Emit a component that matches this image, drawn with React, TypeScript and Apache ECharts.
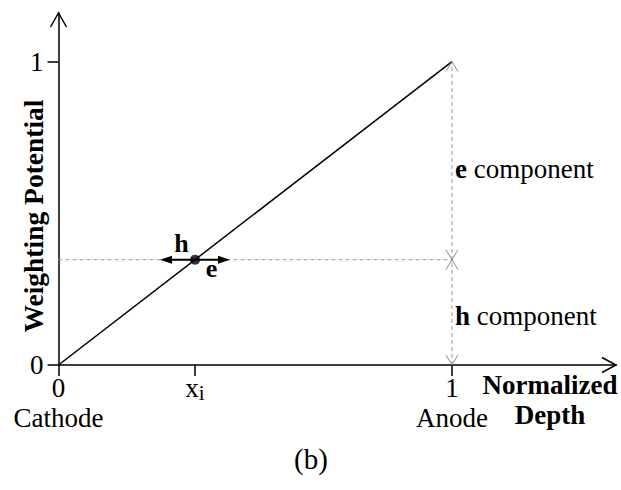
import React, { useEffect, useRef } from "react";
import * as echarts from "echarts";

// ---- data ----
const diagonalX = [0, 1];
const diagonalY = [0, 1];
const xi = 0.347; // position of the charge
const potentialAtXi = 0.347;
const xTicks = [0, xi, 1];
const xTickLabels = ["0\nCathode", "{x|x}{s|i}", "1\nAnode"];
const yTicks = [0, 1];
const yTickLabels = ["0", "1"];
const xMax = 1.417;
const yMax = 1.16;

const SERIF = '"Liberation Serif", "Times New Roman", serif';

export default function App() {
  const ref = useRef<HTMLDivElement>(null);
  useEffect(() => {
    if (!ref.current) return;
    const chart = echarts.init(ref.current, undefined, { renderer: "svg" });
    const black = { stroke: "#000", lineWidth: 1.5, fill: "none" };
    const grey = { stroke: "#8c8c8c", lineWidth: 1, fill: "none" };
    const chevron = (tip: number[], dir: string, hw: number, len: number, style: any) => {
      let pts: number[][];
      if (dir === "up") pts = [[tip[0] - hw, tip[1] + len], tip, [tip[0] + hw, tip[1] + len]];
      else if (dir === "down") pts = [[tip[0] - hw, tip[1] - len], tip, [tip[0] + hw, tip[1] - len]];
      else pts = [[tip[0] - len, tip[1] - hw], tip, [tip[0] - len, tip[1] + hw]];
      return { type: "polyline", shape: { points: pts }, style };
    };
    const findIdx = (arr: number[], v: number) => arr.findIndex((t) => Math.abs(t - v) < 1e-6);

    chart.setOption({
      animation: false,
      grid: { left: 58.5, right: 5, top: 13, bottom: 125 },
      xAxis: {
        type: "value",
        min: 0,
        max: xMax,
        splitLine: { show: false },
        axisLine: { lineStyle: { color: "#000", width: 1.5 } },
        axisTick: { customValues: xTicks, length: 11, lineStyle: { color: "#000", width: 1.5 } },
        axisLabel: {
          customValues: xTicks,
          formatter: (v: number) => xTickLabels[findIdx(xTicks, v)] ?? "",
          color: "#000",
          fontFamily: SERIF,
          fontSize: 27,
          lineHeight: 30,
          margin: 8,
          rich: {
            x: { fontFamily: SERIF, fontSize: 27, color: "#000", lineHeight: 30 },
            s: { fontFamily: SERIF, fontSize: 21, color: "#000", padding: [9, 0, 0, 0] },
          },
        },
      },
      yAxis: {
        type: "value",
        min: 0,
        max: yMax,
        splitLine: { show: false },
        axisLine: { lineStyle: { color: "#000", width: 1.5 } },
        axisTick: { customValues: yTicks, length: 11, lineStyle: { color: "#000", width: 1.5 } },
        axisLabel: {
          customValues: yTicks,
          formatter: (v: number) => yTickLabels[findIdx(yTicks, v)] ?? "",
          color: "#000",
          fontFamily: SERIF,
          fontSize: 27,
          margin: 15,
        },
      },
      series: [
        {
          type: "line",
          data: diagonalX.map((x, i) => [x, diagonalY[i]]),
          symbol: "none",
          lineStyle: { color: "#000", width: 1.5 },
          z: 3,
        },
        {
          type: "line",
          data: [[0, potentialAtXi], [1, potentialAtXi]],
          symbol: "none",
          lineStyle: { color: "#9a9a9a", width: 1, type: [4, 3] },
          z: 2,
        },
        {
          type: "line",
          data: [[1, 0], [1, 1]],
          symbol: "none",
          lineStyle: { color: "#9a9a9a", width: 1, type: [4, 3] },
          z: 2,
        },
        {
          type: "custom",
          data: [[0]],
          z: 4,
          renderItem: (_params: any, api: any) => {
            const top = api.coord([0, yMax]);
            const right = api.coord([xMax, 0]);
            const p = api.coord([xi, potentialAtXi]);
            const a1 = api.coord([1, 1]);
            const am = api.coord([1, potentialAtXi]);
            const a0 = api.coord([1, 0]);
            const L = 35, H = 12, W = 4;
            return {
              type: "group",
              children: [
                chevron(top, "up", 8, 14, black),
                chevron(right, "right", 7.5, 14, black),
                chevron(a1, "up", 6, 10, grey),
                chevron(am, "down", 6, 10, grey),
                chevron(am, "up", 6, 10, grey),
                chevron(a0, "down", 6, 10, grey),
                { type: "line", shape: { x1: p[0] - L + H - 2, y1: p[1], x2: p[0] + L - H + 2, y2: p[1] }, style: { stroke: "#000", lineWidth: 2 } },
                { type: "polygon", shape: { points: [[p[0] - L, p[1]], [p[0] - L + H, p[1] - W], [p[0] - L + H, p[1] + W]] }, style: { fill: "#000" } },
                { type: "polygon", shape: { points: [[p[0] + L, p[1]], [p[0] + L - H, p[1] - W], [p[0] + L - H, p[1] + W]] }, style: { fill: "#000" } },
                { type: "text", x: p[0] - 13.5, y: p[1] - 3, style: { text: "h", fontFamily: SERIF, fontWeight: "bold", fontSize: 26, fill: "#000", align: "center", verticalAlign: "bottom" } },
                { type: "text", x: p[0] + 16.5, y: p[1] + 22, style: { text: "e", fontFamily: SERIF, fontWeight: "bold", fontSize: 26, fill: "#000", align: "center", verticalAlign: "bottom" } },
              ],
            };
          },
        },
        {
          type: "scatter",
          data: [[xi, potentialAtXi]],
          symbol: "circle",
          symbolSize: 10,
          itemStyle: { color: "#000" },
          z: 5,
        },
      ],
      graphic: [
        {
          type: "text",
          x: 33,
          y: 216,
          rotation: Math.PI / 2,
          style: { text: "Weighting Potential", fontFamily: SERIF, fontWeight: "bold", fontSize: 27.5, fill: "#000", align: "center", verticalAlign: "middle" },
        },
        {
          type: "text",
          x: 550,
          y: 370,
          style: { text: "Normalized\nDepth", fontFamily: SERIF, fontWeight: "bold", fontSize: 27, lineHeight: 30, fill: "#000", align: "center", verticalAlign: "top" },
        },
        {
          type: "text",
          x: 455,
          y: 169,
          style: {
            text: "{b|e} component",
            fontFamily: SERIF, fontSize: 27, fill: "#000", align: "left", verticalAlign: "middle",
            rich: { b: { fontFamily: SERIF, fontSize: 27, fontWeight: "bold", fill: "#000" } },
          },
        },
        {
          type: "text",
          x: 455,
          y: 316,
          style: {
            text: "{b|h} component",
            fontFamily: SERIF, fontSize: 27, fill: "#000", align: "left", verticalAlign: "middle",
            rich: { b: { fontFamily: SERIF, fontSize: 27, fontWeight: "bold", fill: "#000" } },
          },
        },
        {
          type: "text",
          x: 311,
          y: 459,
          style: { text: "(b)", fontFamily: SERIF, fontSize: 29, fill: "#000", align: "center", verticalAlign: "middle" },
        },
      ],
    });
    return () => chart.dispose();
  }, []);
  return <div ref={ref} style={{ position: "fixed", left: 0, top: 0, width: 621, height: 490, background: "#fff" }} />;
}
